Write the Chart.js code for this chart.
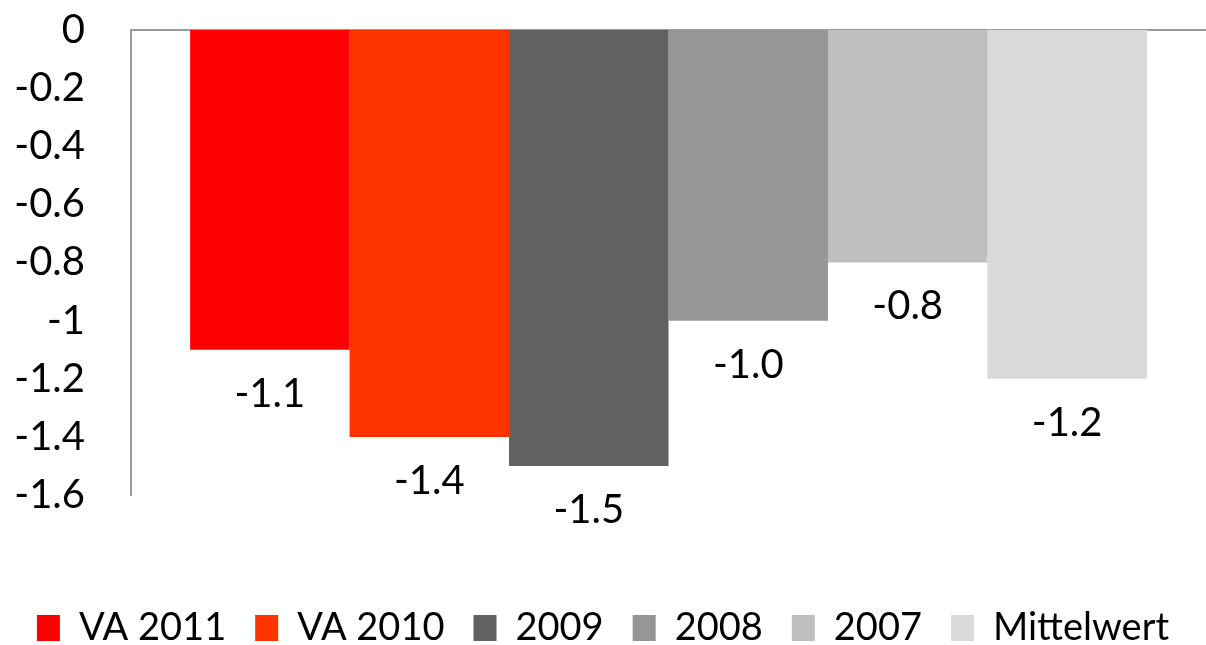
<!DOCTYPE html>
<html>
<head>
<meta charset="utf-8">
<script src="https://cdn.jsdelivr.net/npm/chart.js@4"></script>
<style>
  html, body { margin: 0; padding: 0; background: #fff; }
  #wrap { width: 1206px; height: 645px; position: relative; }
</style>
</head>
<body>
<div id="wrap"><canvas id="c" width="1206" height="645"></canvas></div>
<script>
const categories = [''];
const seriesNames = ['VA 2011', 'VA 2010', '2009', '2008', '2007', 'Mittelwert'];
const seriesValues = [-1.1, -1.4, -1.5, -1.0, -0.8, -1.2];
const seriesColors = ['#FF0000', '#FF3300', '#616161', '#969696', '#BFBFBF', '#D9D9D9'];
const yTicks = [-1.6, -1.4, -1.2, -1, -0.8, -0.6, -0.4, -0.2, 0];

const FONT = 'Lato, Carlito, "Liberation Sans", sans-serif';
const FS = 40;
const LFS = 38;

const datasets = seriesNames.map((name, i) => ({
  label: name,
  data: [seriesValues[i]],
  backgroundColor: seriesColors[i],
  borderWidth: 0,
  barPercentage: 1.0,
  categoryPercentage: 0.89
}));

const valueLabels = {
  id: 'valueLabels',
  afterDatasetsDraw(chart) {
    const ctx = chart.ctx;
    ctx.save();
    ctx.font = FS + 'px ' + FONT;
    ctx.fillStyle = '#000';
    ctx.textAlign = 'center';
    ctx.textBaseline = 'middle';
    chart.data.datasets.forEach((ds, i) => {
      const meta = chart.getDatasetMeta(i);
      meta.data.forEach((bar, j) => {
        const v = ds.data[j];
        ctx.fillText(v.toFixed(1), bar.x, bar.y + 44);
      });
    });
    ctx.restore();
  }
};

new Chart(document.getElementById('c'), {
  type: 'bar',
  data: { labels: categories, datasets },
  options: {
    responsive: false,
    animation: false,
    layout: { padding: { top: 30, left: 0, right: 0, bottom: -12 } },
    scales: {
      x: {
        position: 'top',
        grid: { display: false, drawTicks: false },
        ticks: { display: false },
        border: { display: true, color: '#9a9a9a', width: 2 },
        afterFit(s) { s.height = 0; s.paddingLeft = 0; s.paddingRight = 0; }
      },
      x2: {
        type: 'category',
        labels: categories,
        position: 'bottom',
        grid: { display: false, drawTicks: false },
        ticks: { display: false },
        border: { display: false },
        afterFit(s) { s.height = 85; s.paddingLeft = 0; s.paddingRight = 0; }
      },
      y: {
        min: -1.6,
        max: 0,
        afterBuildTicks(s) { s.ticks = yTicks.map(v => ({ value: v })); },
        afterFit(s) { s.width = 131; s.paddingTop = 0; s.paddingBottom = 0; },
        grid: { display: false, drawTicks: false },
        border: { display: true, color: '#9a9a9a', width: 2 },
        ticks: {
          autoSkip: false,
          padding: 46,
          color: '#000',
          font: { size: FS, family: FONT },
          callback: (v) => String(Number(Number(v).toFixed(1)))
        }
      }
    },
    plugins: {
      legend: {
        position: 'bottom',
        labels: {
          color: '#000',
          font: { size: LFS, family: FONT },
          boxWidth: 23,
          boxHeight: 26,
          padding: 29
        }
      },
      tooltip: { enabled: false }
    }
  },
  plugins: [valueLabels]
});
</script>
</body>
</html>
